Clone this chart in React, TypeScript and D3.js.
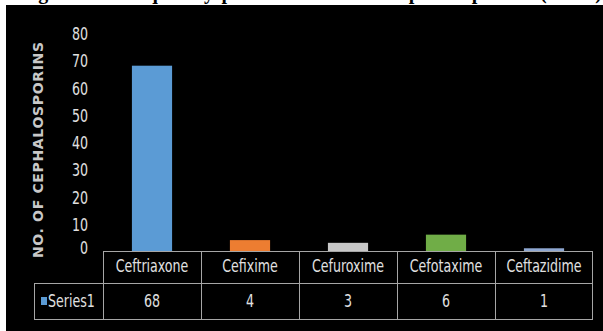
import React from "react";
import * as d3 from "d3";

const categories = ["Ceftriaxone", "Cefixime", "Cefuroxime", "Cefotaxime", "Ceftazidime"];
const values = [68, 4, 3, 6, 1];
const barColors = ["#5b9bd5", "#ed7d31", "#c8c8c8", "#70ad47", "#8fa8d2"];
const yTicks = [0, 10, 20, 30, 40, 50, 60, 70, 80];
const seriesName = "Series1";
const yTitle = "NO. OF CEPHALOSPORINS";
const title = "Figure 3: Frequency pattern of use of cephalosporins (n=82)";

const W = 603;
const H = 331;
const FONT = "'DejaVu Sans Condensed', 'DejaVu Sans', sans-serif";
const SX = 0.78;

function NarrowText(props: {
  x: number;
  y: number;
  anchor?: "start" | "middle" | "end";
  size?: number;
  fill: string;
  children: React.ReactNode;
}) {
  const { x, y, anchor = "start", size = 18, fill, children } = props;
  return (
    <g transform={`translate(${x},${y}) scale(${SX},1)`}>
      <text
        x={0}
        y={0}
        textAnchor={anchor}
        dominantBaseline="central"
        fontFamily={FONT}
        fontSize={size}
        fill={fill}
      >
        {children}
      </text>
    </g>
  );
}

export default function App() {
  const x = d3.scaleBand<string>().domain(categories).range([103, 593]).padding(0);
  const y = d3.scaleLinear().domain([0, 80]).range([251, 33]);
  const bw = x.bandwidth() * 0.41;
  const tableTop = 251;
  const rowMid = 283;
  const tableBottom = 319;
  const legendLeft = 34;
  const txt = "#e0e0e0";
  const line = "#a6a6a6";

  return (
    <svg
      width={W}
      height={H}
      style={{ position: "fixed", left: 0, top: 0, display: "block" }}
      viewBox={`0 0 ${W} ${H}`}
    >
      <rect x={0} y={0} width={W} height={H} fill="#fff" />
      <text
        x={18}
        y={-1}
        fontFamily="'Liberation Serif', 'DejaVu Serif', serif"
        fontWeight="bold"
        fontSize={20}
        textLength={584}
        lengthAdjust="spacing"
        fill="#000"
      >
        {title}
      </text>
      <rect x={6} y={5} width={W - 6} height={H - 5} fill="#000" />

      {/* y axis title */}
      <text
        transform={`translate(38,150) rotate(-90)`}
        textAnchor="middle"
        dominantBaseline="central"
        fontFamily="'DejaVu Sans', sans-serif"
        fontWeight="bold"
        fontSize={14}
        textLength={216}
        lengthAdjust="spacing"
        fill="#c8c8c8"
      >
        {yTitle}
      </text>

      {/* y tick labels */}
      {yTicks.map((t) => (
        <NarrowText key={t} x={88} y={y(t) + (t === 0 ? -3 : 1)} anchor="end" fill={txt}>
          {t}
        </NarrowText>
      ))}

      {/* bars */}
      {categories.map((c, i) => (
        <rect
          key={c}
          x={(x(c) as number) + (x.bandwidth() - bw) / 2}
          y={y(values[i])}
          width={bw}
          height={y(0) - y(values[i])}
          fill={barColors[i]}
        />
      ))}

      {/* data table */}
      <g stroke={line} strokeWidth={1} fill="none">
        <line x1={103} x2={593} y1={tableTop + 0.5} y2={tableTop + 0.5} />
        <line x1={legendLeft} x2={593} y1={rowMid + 0.5} y2={rowMid + 0.5} />
        <line x1={legendLeft} x2={593} y1={tableBottom + 0.5} y2={tableBottom + 0.5} />
        <line x1={legendLeft + 0.5} x2={legendLeft + 0.5} y1={rowMid} y2={tableBottom} />
        {categories.map((c) => (
          <line
            key={c}
            x1={Math.round(x(c) as number) + 0.5}
            x2={Math.round(x(c) as number) + 0.5}
            y1={tableTop}
            y2={tableBottom}
          />
        ))}
        <line x1={592.5} x2={592.5} y1={tableTop} y2={tableBottom} />
      </g>
      {categories.map((c, i) => (
        <g key={c}>
          <NarrowText
            x={(x(c) as number) + x.bandwidth() / 2}
            y={(tableTop + rowMid) / 2 - 1}
            anchor="middle"
            fill={txt}
          >
            {c}
          </NarrowText>
          <NarrowText
            x={(x(c) as number) + x.bandwidth() / 2}
            y={(rowMid + tableBottom) / 2}
            anchor="middle"
            fill={txt}
          >
            {values[i]}
          </NarrowText>
        </g>
      ))}
      <rect x={41} y={297} width={6} height={8} fill={barColors[0]} />
      <NarrowText x={48} y={(rowMid + tableBottom) / 2} fill={txt}>
        {seriesName}
      </NarrowText>
    </svg>
  );
}
